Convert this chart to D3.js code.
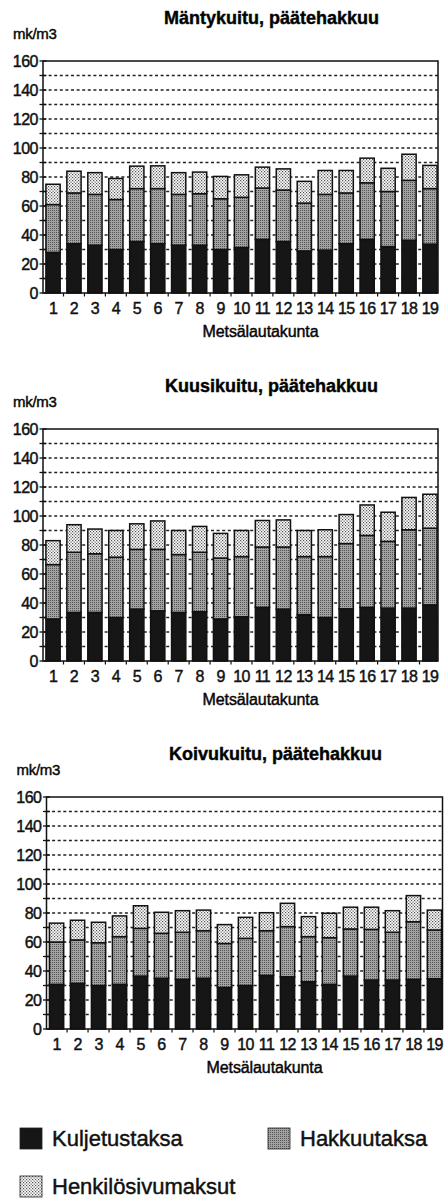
<!DOCTYPE html>
<html>
<head>
<meta charset="utf-8">
<script src="https://cdn.jsdelivr.net/npm/d3@7"></script>
<style>
  body { margin: 0; background: #fff; }
  svg { display: block; font-family: "Liberation Sans", Arial, Helvetica, sans-serif; }
  .heavy { stroke: #111; stroke-width: 0.45px; }
</style>
</head>
<body>
<div id="vis"></div>
<script>
// Frame size
const FRAME_WIDTH = 447;
const FRAME_HEIGHT = 1201;

// Metsälautakunnat (x categories)
const LAUTAKUNNAT = ["1","2","3","4","5","6","7","8","9","10","11","12","13","14","15","16","17","18","19"];
const Y_TICKS = [0, 20, 40, 60, 80, 100, 120, 140, 160];
const SERIES = ["Kuljetustaksa", "Hakkuutaksa", "Henkilösivumaksut"];

// Mäntykuitu, päätehakkuu
const MANTY_KULJETUS = [28, 34, 33, 30, 35.5, 34, 33, 33, 30, 31.4, 37, 35.5, 29, 29.6, 34, 37, 32, 36.4, 33.7];
const MANTY_HAKKUU   = [33, 35, 35, 34.5, 36.5, 38, 35, 35.5, 35, 34.6, 35.4, 35.5, 33, 38.4, 35, 39, 38, 41.3, 38.3];
const MANTY_HENKILO  = [14, 15, 15, 14.5, 15.5, 15.7, 15, 14.9, 15.4, 15.5, 14.4, 14.6, 15, 16.5, 15.5, 17, 16, 18, 16];

// Kuusikuitu, päätehakkuu
const KUUSI_KULJETUS = [29, 33.5, 33.5, 30, 35.8, 34.6, 33.5, 34, 29, 30.5, 37, 35.8, 32, 30, 36, 37, 36.5, 36.5, 38.7];
const KUUSI_HAKKUU   = [37.5, 41.5, 40.5, 41.6, 41.2, 42.4, 39.9, 41, 42, 41.5, 41.6, 42.8, 40, 42, 45, 49.6, 46, 54, 52.9];
const KUUSI_HENKILO  = [16.5, 19, 17, 18.4, 17.6, 19.6, 16.6, 17.8, 17, 18, 18.3, 18.7, 18, 18.5, 20, 21, 20.1, 22.3, 23.4];

// Koivukuitu, päätehakkuu
const KOIVU_KULJETUS = [30.8, 31.5, 30, 30.8, 36.5, 35, 34.3, 35, 28.7, 30, 37, 36, 32.6, 30.8, 36.5, 33.8, 33.8, 34.3, 34.7];
const KOIVU_HAKKUU   = [29.2, 29.9, 29.5, 32.9, 32.9, 31, 32.4, 32.8, 30.3, 32.5, 30.8, 34.6, 31.1, 32.2, 32.5, 34.9, 32.9, 39.7, 33.6];
const KOIVU_HENKILO  = [13, 13.6, 14.1, 14.3, 15.6, 14.5, 14.9, 14.2, 13, 14.5, 12.4, 16.1, 13.8, 16.8, 15, 15.3, 14.9, 18, 13.7];

// Create frame
const FRAME = d3.select("#vis")
  .append("svg")
    .attr("width", FRAME_WIDTH)
    .attr("height", FRAME_HEIGHT);

// Fill patterns (scanned halftone look)
const DEFS = FRAME.append("defs");

const PAT_HAKK = DEFS.append("pattern")
  .attr("id", "pat-hakk")
  .attr("width", 2).attr("height", 2)
  .attr("patternUnits", "userSpaceOnUse");
PAT_HAKK.append("rect").attr("width", 2).attr("height", 2).attr("fill", "#a2a2a2");
PAT_HAKK.append("rect").attr("width", 1).attr("height", 1).attr("fill", "#555");

const PAT_HENK = DEFS.append("pattern")
  .attr("id", "pat-henk")
  .attr("width", 3).attr("height", 3)
  .attr("patternUnits", "userSpaceOnUse");
PAT_HENK.append("rect").attr("width", 3).attr("height", 3).attr("fill", "#ffffff");
PAT_HENK.append("rect").attr("x", 0).attr("y", 0).attr("width", 1.2).attr("height", 1.2).attr("fill", "#505050");
PAT_HENK.append("rect").attr("x", 1.5).attr("y", 1.5).attr("width", 1.2).attr("height", 1.2).attr("fill", "#505050");

const FILLS = {
  "Kuljetustaksa": "#161616",
  "Hakkuutaksa": "url(#pat-hakk)",
  "Henkilösivumaksut": "url(#pat-henk)"
};

// One stacked bar chart
function stackedChart(title, kuljetus, hakkuu, henkilo, top, left, right) {
  const PLOT_H = 232;
  const bottom = top + PLOT_H;

  const rows = LAUTAKUNNAT.map((k, i) => ({
    key: k,
    "Kuljetustaksa": kuljetus[i],
    "Hakkuutaksa": hakkuu[i],
    "Henkilösivumaksut": henkilo[i]
  }));

  const X_SCALE = d3.scaleBand()
    .domain(LAUTAKUNNAT)
    .range([left + 2.5, right - 0.5])
    .paddingInner(0.32)
    .paddingOuter(0.02);

  const Y_SCALE = d3.scaleLinear()
    .domain([0, 160])
    .range([bottom, top]);

  const g = FRAME.append("g");

  // Title
  g.append("text")
    .attr("x", (left + right) / 2 + 31)
    .attr("y", top - 37)
    .attr("text-anchor", "middle")
    .attr("font-weight", "700")
    .attr("class", "heavy")
    .style("font-size", "18px")
    .text(title);

  // Unit
  g.append("text")
    .attr("x", left - 30)
    .attr("y", top - 22)
    .attr("class", "heavy")
    .style("font-size", "15px")
    .style("letter-spacing", "-0.3px")
    .text("mk/m3");

  // Dotted gridlines every 10
  g.append("g")
    .selectAll("line")
    .data(d3.range(10, 160, 10))
    .enter()
    .append("line")
      .attr("x1", left)
      .attr("x2", right)
      .attr("y1", (d) => Y_SCALE(d))
      .attr("y2", (d) => Y_SCALE(d))
      .attr("stroke", "#222")
      .attr("stroke-width", 1.3)
      .attr("stroke-dasharray", "3,2.6");

  // Stacked bars
  const stacked = d3.stack().keys(SERIES)(rows);
  g.append("g")
    .selectAll("g")
    .data(stacked)
    .enter()
    .append("g")
      .attr("fill", (d) => FILLS[d.key])
    .selectAll("rect")
    .data((d) => d)
    .enter()
    .append("rect")
      .attr("x", (d) => X_SCALE(d.data.key))
      .attr("y", (d) => Y_SCALE(d[1]))
      .attr("width", X_SCALE.bandwidth())
      .attr("height", (d) => Y_SCALE(d[0]) - Y_SCALE(d[1]))
      .attr("stroke", "#111")
      .attr("stroke-width", 1.5);

  // Frame box
  g.append("rect")
    .attr("x", left)
    .attr("y", top)
    .attr("width", right - left)
    .attr("height", PLOT_H)
    .attr("fill", "none")
    .attr("stroke", "#111")
    .attr("stroke-width", 1.5);

  // Left axis: ticks every 10, labels every 20
  const yAxis = g.append("g")
    .attr("transform", "translate(" + left + ",0)")
    .call(d3.axisLeft(Y_SCALE).tickValues(Y_TICKS).tickSize(0).tickPadding(5));
  yAxis.select(".domain").remove();
  yAxis.selectAll("text")
    .attr("fill", "#111")
    .attr("class", "heavy")
    .style("font-size", "16px")
    .style("letter-spacing", "-0.5px")
    .style("font-family", "'Liberation Sans', Arial, sans-serif");

  g.append("g")
    .selectAll("line")
    .data(d3.range(0, 170, 10))
    .enter()
    .append("line")
      .attr("x1", left - 3.5)
      .attr("x2", left + 3.5)
      .attr("y1", (d) => Y_SCALE(d))
      .attr("y2", (d) => Y_SCALE(d))
      .attr("stroke", "#111")
      .attr("stroke-width", 1.3);

  // Bottom axis: category labels, ticks between bars
  const xAxis = g.append("g")
    .attr("transform", "translate(0," + bottom + ")")
    .call(d3.axisBottom(X_SCALE).tickSize(0).tickPadding(10));
  xAxis.select(".domain").remove();
  xAxis.selectAll("text")
    .attr("fill", "#111")
    .attr("class", "heavy")
    .style("font-size", "16px")
    .style("letter-spacing", "-0.6px")
    .style("font-family", "'Liberation Sans', Arial, sans-serif");

  const gap = X_SCALE.step() - X_SCALE.bandwidth();
  g.append("g")
    .selectAll("line")
    .data(LAUTAKUNNAT.slice(1))
    .enter()
    .append("line")
      .attr("x1", (d) => X_SCALE(d) - gap / 2)
      .attr("x2", (d) => X_SCALE(d) - gap / 2)
      .attr("y1", bottom)
      .attr("y2", bottom + 3.5)
      .attr("stroke", "#111")
      .attr("stroke-width", 1.2);

  // X axis title
  g.append("text")
    .attr("x", (left + right) / 2 + 20)
    .attr("y", bottom + 43.5)
    .attr("text-anchor", "middle")
    .attr("class", "heavy")
    .style("font-size", "16px")
    .style("letter-spacing", "-0.1px")
    .text("Metsälautakunta");
}

stackedChart("Mäntykuitu, päätehakkuu", MANTY_KULJETUS, MANTY_HAKKUU, MANTY_HENKILO, 61, 43, 438);
stackedChart("Kuusikuitu, päätehakkuu", KUUSI_KULJETUS, KUUSI_HAKKUU, KUUSI_HENKILO, 429, 43, 438);
stackedChart("Koivukuitu, päätehakkuu", KOIVU_KULJETUS, KOIVU_HAKKUU, KOIVU_HENKILO, 797, 46.5, 442.5);

// Legend
const LEGEND_POS = [
  {x: 20, y: 1128},
  {x: 268, y: 1128},
  {x: 20, y: 1176}
];

const legend = FRAME.append("g")
  .selectAll("g")
  .data(SERIES)
  .enter()
  .append("g")
    .attr("transform", (d, i) => "translate(" + LEGEND_POS[i].x + "," + LEGEND_POS[i].y + ")");

legend.append("rect")
  .attr("width", 22)
  .attr("height", 21)
  .attr("fill", (d) => FILLS[d])
  .attr("stroke", "#222")
  .attr("stroke-width", 0.8);

legend.append("text")
  .attr("x", 32)
  .attr("y", 18)
  .attr("class", "heavy")
  .style("font-size", "22px")
  .attr("fill", "#111")
  .text((d) => d);
</script>
</body>
</html>
